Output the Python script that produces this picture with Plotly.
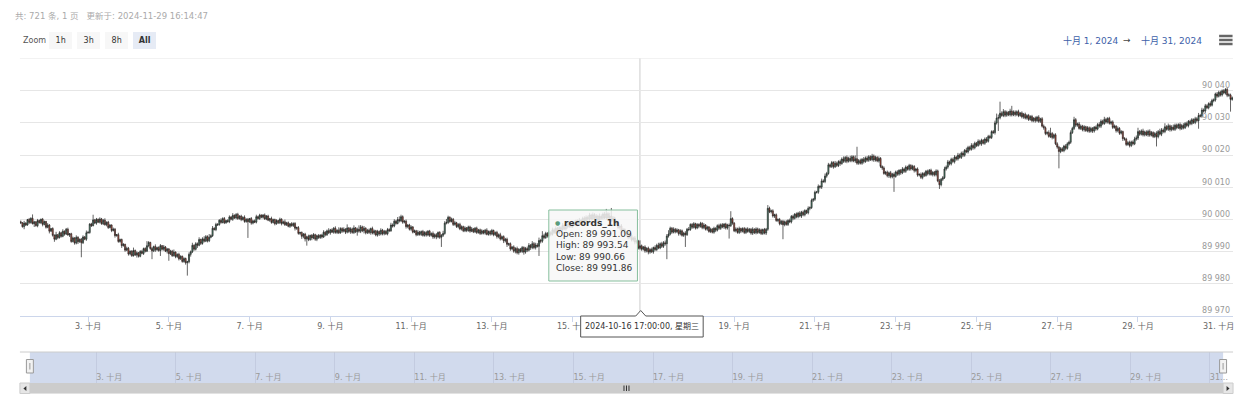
import plotly.graph_objects as go
import pandas as pd

# ---------------- data ----------------
start_time = "2024-10-01 08:00"
first_open = 89999.3
closes = [
    89999.0, 89997.8, 89998.9, 89998.3, 90000.0, 89999.1, 90000.4, 89998.7, 89999.3, 89998.1, 89999.7, 89999.0, 90000.1, 89998.5, 89999.4, 89997.6, 89998.3, 89996.4, 89997.2, 89995.1, 89993.9, 89995.3, 89994.4, 89995.9,
    89994.8, 89996.4, 89995.5, 89997.0, 89995.2, 89995.6, 89993.2, 89994.3, 89992.7, 89994.5, 89993.1, 89993.9, 89992.8, 89994.6, 89993.9, 89995.9, 89996.0, 89998.6, 89998.1, 89999.9, 89998.9, 90000.1, 89999.2, 90000.2,
    89998.7, 89999.8, 89998.4, 89999.2, 89997.5, 89998.3, 89996.6, 89997.0, 89995.0, 89995.3, 89993.2, 89993.8, 89991.9, 89992.3, 89990.5, 89991.1, 89989.3, 89990.2, 89988.8, 89990.4, 89989.0, 89989.7, 89988.6, 89990.1,
    89989.5, 89991.0, 89990.2, 89991.9, 89992.9, 89991.0, 89990.3, 89991.6, 89990.6, 89991.3, 89990.4, 89991.9, 89990.8, 89991.5, 89990.2, 89990.9, 89989.4, 89990.2, 89988.8, 89989.9, 89988.5, 89989.2, 89987.8, 89988.6,
    89987.0, 89987.9, 89986.6, 89986.9, 89989.2, 89990.0, 89992.0, 89990.8, 89992.5, 89992.0, 89993.8, 89992.6, 89994.0, 89993.3, 89994.7, 89993.4, 89994.5, 89995.0, 89997.3, 89996.9, 89998.5, 89998.4, 89999.8, 89999.1,
    90000.3, 89999.0, 89999.7, 89999.4, 90000.8, 90000.1, 90001.3, 90000.5, 90001.6, 90000.3, 90001.1, 90000.0, 90000.7, 89999.4, 90000.1, 89999.3, 90000.3, 89998.9, 89999.6, 89999.2, 90000.9, 90000.3, 90001.4, 90000.7,
    90001.4, 90000.2, 90001.1, 89999.8, 90000.3, 89999.1, 90000.0, 89998.7, 89999.7, 89999.0, 90000.1, 89998.8, 89999.3, 89998.4, 89999.0, 89997.9, 89998.7, 89998.1, 89998.8, 89997.3, 89997.5, 89995.7, 89996.0, 89994.8,
    89995.5, 89994.0, 89994.7, 89993.8, 89995.1, 89994.3, 89995.3, 89993.9, 89995.0, 89994.4, 89995.2, 89994.6, 89996.1, 89995.3, 89996.5, 89995.9, 89996.8, 89996.1, 89997.3, 89996.0, 89996.7, 89995.9, 89997.2, 89996.4,
    89997.0, 89996.1, 89997.4, 89996.3, 89997.1, 89996.0, 89997.4, 89996.2, 89997.0, 89996.4, 89997.7, 89996.5, 89997.3, 89995.9, 89996.7, 89996.0, 89997.2, 89995.8, 89996.5, 89995.2, 89996.3, 89995.5, 89996.7, 89995.6,
    89996.4, 89995.6, 89996.9, 89996.5, 89998.3, 89998.0, 89999.5, 89998.8, 90000.0, 89999.6, 90000.9, 89999.2, 89999.5, 89997.8, 89998.3, 89997.0, 89997.7, 89996.1, 89996.5, 89995.3, 89996.1, 89995.4, 89996.3, 89995.1,
    89996.0, 89995.2, 89996.4, 89995.1, 89995.7, 89994.6, 89995.3, 89994.6, 89996.0, 89994.5, 89995.1, 89995.7, 89998.9, 89999.1, 90000.7, 89999.4, 90000.1, 89998.5, 89999.0, 89997.8, 89998.5, 89997.1, 89997.8, 89996.5,
    89997.4, 89996.6, 89997.7, 89996.4, 89997.1, 89996.2, 89997.3, 89996.0, 89996.8, 89995.7, 89996.5, 89995.8, 89996.7, 89995.4, 89996.3, 89995.5, 89996.6, 89995.3, 89996.0, 89994.7, 89995.3, 89994.0, 89994.7, 89993.4,
    89993.9, 89992.3, 89992.5, 89990.9, 89991.5, 89990.2, 89991.0, 89989.7, 89990.8, 89990.1, 89991.3, 89989.9, 89991.0, 89990.5, 89992.0, 89991.3, 89992.5, 89991.3, 89992.1, 89991.7, 89993.5, 89993.3, 89995.0, 89994.4,
    89995.7, 89994.9, 89996.0, 89995.4, 89996.8, 89996.0, 89997.3, 89996.1, 89997.5, 89996.9, 89998.2, 89997.1, 89998.5, 89997.8, 89998.6, 89997.9, 89999.1, 89998.4, 89999.6, 89998.4, 89999.8, 89999.1, 90000.4, 89999.5,
    90000.7, 90000.1, 90001.4, 90000.2, 90001.5, 90000.3, 90001.1, 89999.8, 90001.0, 90000.4, 90001.7, 90000.5, 90001.8, 90000.5, 90001.1, 89999.8, 90000.5, 89998.7, 89999.1, 89997.5, 89998.0, 89996.5, 89996.9, 89995.4,
    89996.0, 89994.5, 89995.1, 89993.7, 89994.3, 89993.0, 89993.3, 89991.09, 89991.86, 89990.8, 89991.5, 89990.3, 89991.1, 89989.9, 89990.7, 89990.0, 89991.3, 89990.7, 89992.0, 89991.2, 89992.5, 89991.7, 89992.8, 89992.5,
    89994.9, 89995.5, 89997.3, 89996.1, 89997.0, 89996.2, 89996.8, 89995.6, 89996.5, 89995.1, 89995.8, 89995.3, 89997.0, 89996.9, 89998.5, 89997.6, 89998.7, 89997.4, 89998.5, 89997.9, 89998.8, 89997.5, 89998.3, 89997.0,
    89997.7, 89996.3, 89997.0, 89996.1, 89997.3, 89996.7, 89998.1, 89997.3, 89998.4, 89997.7, 89998.6, 89997.4, 89998.3, 89998.1, 90000.3, 89998.9, 89996.5, 89997.1, 89996.0, 89997.2, 89996.4, 89997.2, 89996.0, 89997.1,
    89996.3, 89997.0, 89995.8, 89997.0, 89995.9, 89997.1, 89996.0, 89996.8, 89995.7, 89996.9, 89995.8, 89997.0, 90003.5, 90002.4, 90002.7, 90001.1, 90001.5, 89999.7, 90000.0, 89998.7, 89999.5, 89998.4, 89999.3, 89998.5,
    89999.7, 89999.3, 90001.0, 90000.4, 90001.7, 90000.9, 90002.0, 90001.1, 90002.3, 90001.5, 90002.8, 90002.1, 90003.5, 90003.7, 90006.0, 90006.3, 90008.5, 90008.5, 90010.3, 90010.1, 90012.0, 90011.8, 90013.5, 90014.3,
    90017.0, 90016.5, 90017.7, 90016.4, 90017.5, 90016.8, 90018.0, 90017.4, 90018.8, 90018.1, 90019.3, 90018.1, 90019.0, 90018.3, 90019.5, 90018.2, 90018.9, 90017.5, 90018.3, 90017.5, 90018.7, 90018.0, 90019.1, 90018.4,
    90019.5, 90018.6, 90019.7, 90018.5, 90019.3, 90018.2, 90019.0, 90016.5, 90016.0, 90014.3, 90014.7, 90013.6, 90014.5, 90013.3, 90014.1, 90013.4, 90014.8, 90014.1, 90015.3, 90014.5, 90015.7, 90015.0, 90016.3, 90015.6,
    90016.8, 90015.7, 90016.5, 90015.2, 90015.7, 90013.8, 90014.0, 90013.1, 90014.3, 90013.7, 90015.0, 90014.2, 90015.3, 90014.0, 90014.7, 90013.9, 90015.1, 90012.0, 90010.8, 90012.5, 90013.0, 90015.7, 90016.3, 90017.9,
    90017.3, 90018.7, 90018.0, 90019.4, 90018.8, 90020.0, 90019.3, 90020.6, 90020.0, 90021.5, 90021.0, 90022.4, 90021.8, 90023.0, 90022.3, 90023.7, 90023.0, 90024.3, 90023.5, 90024.6, 90023.7, 90025.0, 90024.3, 90025.8,
    90025.5, 90027.3, 90027.0, 90030.0, 90031.5, 90031.6, 90033.0, 90032.3, 90033.5, 90032.4, 90033.3, 90032.5, 90033.7, 90032.5, 90033.4, 90032.6, 90033.5, 90032.3, 90033.1, 90031.9, 90032.7, 90031.5, 90032.3, 90031.1,
    90032.0, 90030.7, 90031.5, 90030.7, 90031.8, 90030.5, 90031.3, 90029.0, 90028.5, 90026.7, 90027.0, 90025.8, 90026.7, 90025.5, 90026.3, 90023.5, 90022.5, 90021.1, 90022.0, 90021.4, 90022.8, 90022.1, 90023.5, 90024.0,
    90027.0, 90028.3, 90031.0, 90029.3, 90029.7, 90028.3, 90029.0, 90027.9, 90028.8, 90027.6, 90028.5, 90027.4, 90028.3, 90027.5, 90028.7, 90028.1, 90029.5, 90029.0, 90030.5, 90029.8, 90031.1, 90030.3, 90031.4, 90029.9,
    90030.3, 90028.6, 90029.0, 90027.6, 90028.3, 90026.8, 90027.3, 90025.1, 90025.0, 90023.3, 90023.9, 90023.0, 90024.1, 90023.5, 90025.0, 90025.3, 90027.3, 90026.5, 90027.5, 90026.3, 90027.2, 90026.3, 90027.4, 90026.2,
    90027.0, 90025.8, 90026.7, 90025.7, 90027.3, 90026.5, 90027.8, 90027.3, 90028.8, 90028.0, 90029.1, 90027.9, 90028.7, 90028.0, 90029.3, 90028.5, 90029.5, 90028.3, 90029.2, 90028.5, 90029.8, 90029.2, 90030.5, 90029.8,
    90031.0, 90030.1, 90031.3, 90030.7, 90032.3, 90032.1, 90034.0, 90033.7, 90035.3, 90034.7, 90036.0, 90035.5, 90037.0, 90037.1, 90039.0, 90038.3, 90039.5, 90038.7, 90040.0, 90039.3, 90040.4, 90038.6, 90038.7, 90037.3,
    90037.8,
]
upper_wick = [
    0.4, 0.2, 0.7, 0.3, 0.2, 0.5, 0.3, 1.2, 0.3, 0.2, 0.5, 0.3, 0.2, 0.4, 0.3, 0.2, 0.6, 0.3, 0.2, 0.4, 0.3, 0.9, 0.2, 0.5,
    0.3, 0.6, 0.2, 0.4, 0.5, 0.2, 0.3, 0.4, 0.2, 0.6, 0.3, 0.2, 0.4, 0.5, 0.3, 0.7, 0.5, 0.3, 0.4, 1.6, 0.3, 0.4, 0.2, 0.5,
    0.3, 0.4, 0.6, 0.2, 0.4, 0.3, 0.2, 0.5, 0.4, 0.2, 0.6, 0.3, 0.3, 0.4, 0.2, 0.5, 0.4, 0.2, 0.3, 0.9, 0.3, 0.4, 0.2, 0.4,
    0.5, 0.3, 0.4, 1.4, 0.4, 0.2, 0.5, 0.3, 0.7, 0.3, 0.4, 0.5, 0.2, 0.6, 0.3, 0.3, 0.2, 0.4, 0.4, 0.8, 0.2, 0.3, 0.5, 0.3,
    0.2, 0.4, 0.3, 0.3, 0.6, 0.4, 0.8, 0.3, 0.5, 0.4, 0.7, 0.3, 0.5, 0.8, 0.5, 0.4, 1.0, 0.4, 0.7, 0.3, 0.5, 0.4, 0.3, 0.6,
    0.4, 0.5, 0.2, 0.4, 0.5, 0.3, 0.7, 0.3, 0.4, 0.5, 0.2, 0.4, 0.3, 0.6, 0.3, 0.4, 0.2, 0.5, 0.3, 0.4, 0.6, 0.3, 0.4, 0.2,
    0.3, 0.5, 0.3, 0.4, 0.2, 0.6, 0.3, 0.3, 0.4, 0.2, 0.5, 0.3, 0.4, 0.7, 0.3, 0.4, 0.2, 0.5, 0.3, 0.4, 0.3, 0.5, 0.2, 0.3,
    0.3, 0.4, 0.3, 0.6, 0.2, 0.4, 0.5, 0.3, 0.3, 0.5, 0.2, 0.4, 0.6, 0.3, 0.4, 0.8, 0.3, 0.5, 0.4, 0.6, 0.3, 0.9, 0.4, 0.4,
    0.6, 0.3, 1.1, 0.3, 0.5, 0.4, 0.8, 0.3, 0.5, 1.2, 0.6, 0.4, 0.7, 0.3, 0.4, 0.5, 0.3, 0.6, 0.4, 0.3, 0.5, 0.3, 0.6, 0.4,
    0.4, 0.3, 0.5, 0.4, 0.7, 0.5, 0.6, 0.4, 0.8, 1.0, 0.6, 0.4, 0.3, 0.5, 0.3, 0.4, 0.5, 0.3, 0.4, 0.3, 0.6, 0.4, 0.3, 0.5,
    0.4, 0.5, 0.3, 0.4, 0.3, 0.6, 0.4, 0.5, 0.3, 0.4, 0.4, 0.8, 0.6, 1.1, 0.5, 0.3, 0.5, 0.4, 0.6, 0.3, 0.4, 0.5, 0.4, 0.3,
    0.5, 0.3, 0.4, 0.4, 0.6, 0.3, 0.4, 0.5, 0.3, 0.4, 0.5, 0.3, 0.4, 0.6, 0.3, 0.4, 0.5, 0.3, 0.3, 0.5, 0.4, 0.6, 0.3, 0.4,
    0.4, 0.5, 0.3, 0.4, 0.3, 0.5, 0.4, 0.6, 0.3, 0.4, 0.5, 0.4, 0.5, 0.6, 0.7, 0.4, 0.8, 0.5, 0.7, 0.6, 0.9, 0.5, 1.4, 0.6,
    0.5, 0.4, 0.6, 0.4, 0.7, 0.5, 0.6, 0.4, 0.5, 0.4, 0.7, 0.5, 0.6, 0.4, 0.8, 0.5, 0.4, 0.6, 0.4, 0.5, 0.7, 0.4, 0.5, 0.6,
    0.6, 0.5, 0.7, 0.4, 0.7, 0.5, 0.6, 0.4, 0.9, 0.6, 0.5, 0.7, 1.5, 0.5, 1.0, 2.5, 0.6, 0.4, 0.7, 0.5, 0.4, 0.6, 0.5, 0.4,
    0.4, 0.5, 0.3, 0.5, 0.4, 0.6, 0.4, 0.4, 1.68, 0.4, 0.3, 0.5, 0.3, 0.5, 0.4, 0.6, 0.3, 0.7, 0.5, 0.8, 0.4, 0.6, 0.5, 0.7,
    0.6, 1.2, 0.5, 0.4, 0.6, 0.4, 0.5, 0.3, 0.5, 0.4, 0.4, 0.6, 0.4, 0.7, 0.3, 0.4, 0.5, 0.3, 0.4, 0.3, 0.5, 0.4, 0.6, 0.3,
    0.4, 0.3, 0.5, 0.4, 0.5, 0.3, 0.4, 0.6, 0.4, 0.5, 0.3, 0.4, 0.4, 0.5, 2.3, 0.4, 0.3, 0.5, 0.4, 0.6, 0.3, 0.4, 0.5, 0.4,
    0.5, 0.4, 0.4, 0.6, 0.3, 0.5, 0.4, 0.5, 0.4, 0.3, 0.5, 0.4, 1.0, 0.5, 0.4, 0.5, 0.3, 0.4, 0.4, 0.5, 0.3, 0.4, 0.4, 0.5,
    0.4, 0.6, 0.4, 0.5, 0.3, 0.5, 0.4, 0.6, 0.4, 0.5, 0.4, 0.3, 0.6, 0.4, 0.5, 0.4, 0.5, 0.4, 0.6, 0.4, 0.7, 0.5, 0.8, 0.5,
    0.6, 0.4, 0.5, 0.4, 0.7, 0.5, 0.4, 0.6, 0.5, 0.8, 0.4, 0.6, 0.5, 0.8, 0.5, 0.4, 1.0, 3.7, 0.5, 0.6, 0.4, 0.7, 0.5, 0.6,
    0.5, 0.4, 0.7, 0.5, 0.5, 0.4, 0.6, 0.4, 0.3, 0.5, 0.4, 0.5, 0.4, 0.6, 0.4, 0.5, 0.4, 0.5, 0.3, 0.4, 0.6, 0.4, 0.5, 0.4,
    0.5, 0.4, 0.5, 0.4, 0.3, 0.5, 0.4, 0.6, 0.4, 0.5, 0.4, 0.5, 0.4, 0.5, 0.3, 0.4, 0.5, 0.4, 0.6, 0.4, 0.5, 0.7, 0.5, 0.6,
    0.4, 0.5, 0.5, 0.6, 0.4, 0.7, 0.5, 0.5, 0.6, 0.4, 0.8, 0.5, 0.5, 0.7, 0.6, 0.5, 0.4, 0.6, 0.5, 0.5, 0.4, 0.5, 0.6, 0.5,
    0.5, 0.4, 0.5, 0.7, 1.4, 1.0, 3.6, 0.6, 0.8, 0.5, 0.5, 0.4, 0.7, 1.6, 0.5, 0.5, 0.4, 0.6, 0.3, 0.5, 0.4, 0.5, 0.4, 0.5,
    0.4, 0.5, 0.3, 0.5, 0.4, 0.6, 0.3, 0.5, 0.5, 0.4, 0.4, 0.7, 1.8, 0.5, 0.4, 0.5, 0.5, 0.4, 0.5, 0.5, 0.4, 0.6, 0.5, 0.5,
    0.7, 0.5, 0.9, 0.5, 0.4, 0.6, 0.5, 0.4, 0.5, 0.3, 0.5, 0.4, 0.5, 0.4, 0.3, 0.5, 0.5, 0.7, 0.6, 0.5, 0.8, 0.5, 0.4, 0.5,
    0.4, 0.5, 0.5, 0.3, 0.6, 0.4, 0.5, 0.3, 0.5, 0.4, 0.5, 0.6, 0.4, 0.5, 0.7, 0.8, 1.2, 0.5, 0.5, 0.7, 0.4, 0.5, 0.5, 0.6,
    0.5, 0.4, 0.5, 0.7, 0.5, 0.9, 0.6, 0.5, 1.1, 0.5, 0.7, 0.4, 0.6, 0.8, 0.5, 0.5, 0.4, 0.6, 0.5, 0.7, 0.5, 0.6, 0.4, 0.5,
    0.5, 0.4, 0.6, 0.5, 0.8, 0.5, 0.7, 0.5, 0.6, 0.5, 0.4, 0.7, 0.5, 0.5, 0.4, 0.6, 0.5, 0.5, 0.4, 0.5, 0.4, 0.5, 0.5, 0.4,
    0.4,
]
lower_wick = [
    0.4, 0.3, 0.8, 0.3, 0.2, 0.5, 0.4, 0.2, 1.0, 0.3, 0.5, 0.2, 0.4, 0.6, 0.3, 0.4, 0.3, 0.7, 0.2, 0.4, 0.8, 0.3, 0.5, 0.3,
    0.4, 0.3, 0.5, 0.3, 0.2, 0.6, 0.4, 0.3, 0.5, 0.4, 0.7, 0.3, 4.5, 0.4, 0.3, 0.5, 0.3, 0.4, 0.4, 0.2, 0.3, 0.5, 0.3, 0.4,
    0.3, 0.4, 0.3, 0.5, 0.4, 0.2, 0.5, 0.3, 0.6, 0.3, 0.4, 0.4, 0.7, 0.3, 0.5, 0.3, 0.5, 0.4, 0.4, 0.3, 0.3, 0.8, 0.4, 0.3,
    0.3, 0.5, 0.4, 0.3, 0.5, 0.4, 2.6, 0.4, 0.6, 0.3, 0.4, 1.7, 0.4, 0.5, 0.3, 0.7, 2.2, 0.4, 0.4, 0.3, 0.5, 0.4, 0.5, 0.3,
    0.4, 0.4, 0.6, 4.0, 0.5, 0.7, 0.4, 0.5, 0.4, 0.8, 0.3, 0.5, 0.4, 0.4, 0.3, 0.5, 0.4, 0.3, 0.4, 0.3, 0.5, 0.4, 0.3, 0.4,
    0.3, 0.4, 0.3, 0.4, 0.5, 0.3, 0.5, 0.3, 0.4, 0.4, 0.3, 0.5, 0.3, 0.4, 0.4, 5.0, 0.3, 0.5, 0.4, 0.3, 0.4, 0.3, 0.4, 0.3,
    0.4, 0.3, 0.4, 0.3, 0.5, 0.4, 0.3, 0.5, 0.3, 0.4, 0.4, 0.6, 0.3, 0.4, 0.4, 0.3, 0.5, 0.3, 0.4, 0.7, 0.5, 0.4, 0.5, 0.8,
    0.6, 0.8, 2.1, 0.5, 0.4, 0.7, 0.4, 0.5, 0.6, 0.4, 0.4, 0.5, 0.3, 0.5, 0.4, 0.4, 0.6, 0.3, 0.5, 0.4, 0.5, 0.4, 0.3, 0.5,
    0.4, 0.6, 0.4, 0.5, 0.7, 0.4, 0.5, 0.4, 1.2, 0.5, 0.6, 0.4, 0.8, 0.5, 0.4, 0.5, 0.7, 0.4, 0.5, 0.4, 0.5, 0.6, 0.4, 0.5,
    0.5, 0.4, 0.5, 0.4, 0.3, 0.5, 0.4, 0.4, 0.3, 0.5, 0.4, 0.5, 0.4, 0.6, 0.5, 0.4, 0.5, 0.4, 0.3, 0.5, 0.4, 0.4, 0.5, 0.4,
    0.4, 0.5, 0.4, 0.5, 0.4, 0.6, 0.5, 0.7, 0.4, 0.5, 3.0, 0.5, 0.4, 0.4, 0.5, 0.4, 0.3, 0.5, 0.4, 0.4, 0.5, 0.4, 0.5, 0.4,
    0.4, 0.5, 0.4, 0.5, 0.3, 0.4, 0.4, 0.5, 0.4, 0.5, 0.4, 0.4, 0.5, 0.3, 0.4, 0.5, 0.4, 0.5, 0.4, 0.6, 0.5, 0.5, 0.4, 0.7,
    0.5, 0.8, 0.5, 0.6, 0.4, 0.5, 0.7, 0.5, 0.6, 0.4, 0.5, 0.8, 0.5, 0.6, 0.4, 0.7, 0.5, 0.5, 0.6, 0.4, 3.0, 0.7, 0.5, 0.5,
    0.4, 0.5, 0.5, 0.6, 0.4, 0.5, 0.5, 0.4, 0.6, 0.5, 0.5, 0.4, 0.5, 0.6, 0.4, 0.5, 0.5, 0.4, 0.5, 0.5, 0.4, 0.6, 0.5, 0.4,
    0.5, 0.4, 0.5, 0.5, 0.4, 0.6, 0.5, 0.5, 0.4, 0.5, 0.5, 0.4, 0.6, 0.5, 0.4, 0.5, 0.5, 0.7, 0.5, 0.4, 0.6, 0.5, 0.5, 0.4,
    0.5, 0.6, 0.4, 0.5, 0.5, 0.7, 0.5, 0.4, 0.43, 0.5, 0.4, 0.6, 0.5, 0.7, 0.5, 0.4, 0.6, 0.5, 0.5, 0.4, 0.4, 0.5, 0.5, 0.6,
    4.8, 0.5, 0.4, 0.5, 0.4, 0.5, 0.4, 0.6, 0.5, 0.4, 0.5, 3.8, 0.4, 0.5, 0.4, 0.5, 0.4, 0.5, 0.4, 0.6, 0.4, 0.5, 0.5, 0.4,
    0.5, 0.4, 0.5, 0.4, 0.5, 0.6, 0.4, 0.5, 0.5, 0.4, 0.6, 0.5, 0.5, 4.0, 0.4, 0.5, 0.4, 0.5, 0.4, 0.5, 0.6, 0.4, 0.5, 0.5,
    0.4, 0.5, 0.5, 0.6, 0.4, 0.5, 0.5, 0.4, 0.5, 0.5, 0.4, 0.6, 0.5, 0.4, 0.5, 0.5, 0.6, 0.4, 0.5, 0.5, 0.4, 4.5, 0.5, 0.4,
    0.5, 0.4, 0.5, 0.6, 0.4, 0.5, 0.5, 0.4, 0.6, 0.5, 0.5, 0.4, 0.5, 0.6, 0.4, 0.5, 0.5, 0.4, 0.5, 0.5, 0.6, 0.4, 0.5, 0.5,
    0.4, 0.5, 0.5, 0.6, 0.4, 0.5, 0.5, 0.7, 0.4, 0.5, 0.5, 0.6, 0.4, 0.5, 0.5, 0.4, 0.6, 0.5, 0.5, 0.4, 0.5, 0.6, 0.4, 0.5,
    0.5, 0.4, 0.5, 0.6, 0.5, 0.4, 0.5, 0.5, 0.6, 0.4, 0.5, 0.5, 0.7, 0.5, 0.5, 4.8, 0.4, 0.5, 0.5, 0.6, 0.4, 0.5, 0.5, 0.4,
    0.5, 0.5, 0.4, 0.6, 0.5, 0.5, 0.4, 0.5, 0.6, 0.5, 0.4, 0.5, 0.5, 0.4, 0.6, 0.5, 0.5, 0.4, 1.3, 0.5, 0.5, 0.4, 0.5, 0.5,
    0.5, 0.5, 0.4, 0.6, 0.5, 0.5, 0.4, 0.5, 0.6, 0.5, 0.4, 0.5, 0.5, 0.4, 0.6, 0.5, 0.5, 0.4, 0.5, 0.6, 0.4, 0.5, 0.5, 0.4,
    0.5, 0.5, 0.4, 0.6, 0.5, 4.0, 0.5, 0.4, 0.5, 0.6, 0.5, 0.4, 0.5, 0.5, 0.4, 0.6, 0.5, 0.5, 0.4, 0.5, 0.6, 0.4, 0.5, 0.5,
    0.4, 0.5, 0.5, 0.6, 0.4, 0.5, 0.5, 0.4, 0.6, 0.5, 0.5, 0.4, 0.5, 0.6, 0.5, 0.4, 0.5, 5.2, 0.5, 0.4, 0.5, 0.6, 0.4, 0.5,
    0.5, 0.4, 0.5, 0.6, 0.5, 0.4, 0.5, 0.5, 0.6, 0.4, 0.5, 0.5, 0.4, 0.6, 0.5, 0.5, 0.4, 0.5, 0.6, 0.5, 0.4, 0.5, 0.5, 0.4,
    0.5, 0.5, 0.4, 0.6, 0.5, 0.5, 0.4, 0.7, 0.5, 0.5, 0.4, 0.6, 0.5, 0.5, 0.4, 0.5, 0.6, 0.5, 0.4, 0.5, 0.5, 0.4, 0.6, 0.5,
    0.4, 0.5, 0.5, 3.0, 0.5, 0.4, 0.6, 0.5, 0.5, 0.4, 0.5, 0.6, 0.5, 0.4, 0.5, 0.5, 0.4, 0.6, 0.5, 0.5, 0.4, 0.5, 0.6, 0.5,
    0.5, 0.4, 0.5, 0.5, 2.5, 0.4, 0.5, 0.5, 0.6, 0.4, 0.5, 0.5, 0.4, 0.6, 0.5, 0.5, 0.4, 0.5, 0.5, 0.4, 0.5, 0.6, 0.5, 3.8,
    0.4,
]
tick_days = [3, 5, 7, 9, 11, 13, 15, 17, 19, 21, 23, 25, 27, 29, 31]
month_name = "十月"
y_ticks = [89970, 89980, 89990, 90000, 90010, 90020, 90030, 90040]
header_text = "共: 721 条, 1 页   更新于: 2024-11-29 16:14:47"
zoom_labels = ["1h", "3h", "8h", "All"]
range_from_text = "十月 1, 2024"
range_to_text = "十月 31, 2024"
series_name = "records_1h"
hover_index = 368
hover_label_text = "2024-10-16 17:00:00, 星期三"
hidden_tick_day = 17  # covered by the crosshair label in the reference
edge_tick_day = 31    # last tick, drawn as a text pinned to its date

assert len(closes) == len(upper_wick) == len(lower_wick) == 721

# ---------------- derived ----------------
times = pd.date_range(start_time, periods=len(closes), freq="h")
opens = [first_open] + closes[:-1]
highs = [max(o, c) + w for o, c, w in zip(opens, closes, upper_wick)]
lows = [min(o, c) - w for o, c, w in zip(opens, closes, lower_wick)]
tick_times = [pd.Timestamp(2024, 10, d) for d in tick_days]
tick_text = [f"{d}. {month_name}" for d in tick_days]
main_tick_text = ["" if d in (hidden_tick_day, edge_tick_day) else t for d, t in zip(tick_days, tick_text)]
nav_tick_text = tick_text[:-1] + [f"{tick_days[-1]}…"]


def fmt(v):
    return f"{v:,.2f}".replace(",", " ")


y_text = [f"{v:,}".replace(",", " ") for v in y_ticks]

W, H = 1251, 401


def X(p):
    return p / W


def Y(p):
    return 1 - p / H


FONT = "DejaVu Sans, Noto Sans CJK SC, sans-serif"
half = pd.Timedelta(minutes=30)

fig = go.Figure()
fig.add_trace(go.Candlestick(
    x=times, open=opens, high=highs, low=lows, close=closes, name=series_name,
    increasing=dict(line=dict(color="#222222", width=0.7), fillcolor="#4f9a7b"),
    decreasing=dict(line=dict(color="#222222", width=0.7), fillcolor="#d9513c"),
    hoverinfo="skip", showlegend=False, xaxis="x", yaxis="y",
))
fig.add_trace(go.Scatter(
    x=times, y=closes, xaxis="x2", yaxis="y2", mode="lines",
    line=dict(width=0, color="rgba(0,0,0,0)"), hoverinfo="skip", showlegend=False,
))

shapes = []
annotations = []

# top gridline (90 050)
shapes.append(dict(type="line", xref="paper", yref="y", x0=X(20), x1=X(1238), y0=90050, y1=90050,
                   line=dict(color="#e6e6e6", width=1), layer="below"))
# crosshair
shapes.append(dict(type="line", xref="x", yref="y domain", x0=times[hover_index], x1=times[hover_index],
                   y0=0, y1=1, line=dict(color="#cccccc", width=1), layer="below"))

# navigator mask + outline
shapes.append(dict(type="rect", xref="paper", yref="paper", x0=X(30), x1=X(1228), y0=Y(383), y1=Y(352),
                   fillcolor="rgba(102,133,194,0.3)", line=dict(width=0), layer="below"))
shapes.append(dict(type="line", xref="paper", yref="paper", x0=X(20), x1=X(1238), y0=Y(352), y1=Y(352),
                   line=dict(color="#cccccc", width=1), layer="above"))
# navigator handles
for hx in (30, 1228):
    shapes.append(dict(type="rect", xref="paper", yref="paper", x0=X(hx - 3.5), x1=X(hx + 3.5), y0=Y(373), y1=Y(359.5),
                       fillcolor="#f2f2f2", line=dict(color="#999999", width=1), layer="above"))
    shapes.append(dict(type="line", xref="paper", yref="paper", x0=X(hx), x1=X(hx), y0=Y(369.5), y1=Y(363),
                       line=dict(color="#999999", width=1), layer="above"))
# scrollbar
shapes.append(dict(type="rect", xref="paper", yref="paper", x0=X(20), x1=X(1238), y0=Y(393.5), y1=Y(383),
                   fillcolor="#f2f2f2", line=dict(width=0), layer="above"))
shapes.append(dict(type="rect", xref="paper", yref="paper", x0=X(30), x1=X(1228), y0=Y(393.5), y1=Y(383),
                   fillcolor="#cccccc", line=dict(width=0), layer="above"))
for bx0 in (20, 1228):
    shapes.append(dict(type="rect", xref="paper", yref="paper", x0=X(bx0), x1=X(bx0 + 10), y0=Y(393.5), y1=Y(383),
                       fillcolor="#e6e6e6", line=dict(color="#cccccc", width=1), layer="above"))
shapes.append(dict(type="path", xref="paper", yref="paper",
                   path=f"M {X(26.5)} {Y(386)} L {X(26.5)} {Y(391)} L {X(23.5)} {Y(388.5)} Z",
                   fillcolor="#333333", line=dict(width=0), layer="above"))
shapes.append(dict(type="path", xref="paper", yref="paper",
                   path=f"M {X(1231.5)} {Y(386)} L {X(1231.5)} {Y(391)} L {X(1234.5)} {Y(388.5)} Z",
                   fillcolor="#333333", line=dict(width=0), layer="above"))
for rx in (626.5, 629, 631.5):
    shapes.append(dict(type="line", xref="paper", yref="paper", x0=X(rx), x1=X(rx), y0=Y(391), y1=Y(385.5),
                       line=dict(color="#333333", width=1), layer="above"))

# hamburger menu
for hy in (36, 40, 44):
    shapes.append(dict(type="line", xref="paper", yref="paper", x0=X(1224), x1=X(1237.5), y0=Y(hy), y1=Y(hy),
                       line=dict(color="#666666", width=2.5), layer="above"))

# tooltip box
shapes.append(dict(type="rect", xref="paper", yref="paper", x0=X(551), x1=X(640), y0=Y(281), y1=Y(210),
                   fillcolor="rgba(247,247,247,0.85)", line=dict(color="#86bf9d", width=1), layer="above"))
# crosshair label box with pointer
cx = 643.3
path = (f"M {X(583)} {Y(316)} L {X(cx - 5)} {Y(316)} L {X(cx)} {Y(310.5)} L {X(cx + 5)} {Y(316)} "
        f"L {X(706)} {Y(316)} L {X(706)} {Y(337)} L {X(583)} {Y(337)} Z")
shapes.append(dict(type="path", xref="paper", yref="paper", path=path,
                   fillcolor="#ffffff", line=dict(color="#555555", width=1), layer="above"))


def label(x, y, text, size=8, color="#333333", xanchor="left", **kw):
    d = dict(x=X(x), y=Y(y), xref="paper", yref="paper", text=text, showarrow=False,
             xanchor=xanchor, yanchor="middle", font=dict(family=FONT, size=size, color=color))
    d.update(kw)
    annotations.append(d)


label(12.7, 15.7, header_text, size=8.5, color="#aaaaaa")
label(20.7, 40, "Zoom", size=8, color="#555555")
for lab, bx in zip(zoom_labels, (61, 89, 117, 145.3)):
    selected = lab == "All"
    label(bx, 40, f"<b>{lab}</b>" if selected else lab, size=8, color="#333333", xanchor="center",
          width=23.4, height=16.6, bgcolor="#e6ebf5" if selected else "#f7f7f7", borderpad=0, borderwidth=0)
label(1065.7, 40, range_from_text, size=9, color="#3e5fa9")
label(1131.5, 40, "→", size=9, color="#444444", xanchor="center")
label(1144, 40, range_to_text, size=9, color="#3e5fa9")

# last main x tick label, pinned to its date on the x axis
annotations.append(dict(x=pd.Timestamp(2024, 10, edge_tick_day), xref="x", y=Y(326.3), yref="paper",
                        text=tick_text[tick_days.index(edge_tick_day)], showarrow=False,
                        xanchor="center", yanchor="middle",
                        font=dict(family=FONT, size=8, color="#666666")))

# tooltip text
label(559.5, 222.5, "●", size=6, color="#5b9c7c", xanchor="center")
label(564.5, 222.5, f"<b>{series_name}</b>", size=9, color="#333333")
label(556.5, 233.8, f"Open: {fmt(opens[hover_index])}", size=9)
label(556.5, 245.3, f"High: {fmt(highs[hover_index])}", size=9)
label(556.5, 256.8, f"Low: {fmt(lows[hover_index])}", size=9)
label(556.5, 268.3, f"Close: {fmt(closes[hover_index])}", size=9)
# crosshair x label
label(644.5, 326.5, hover_label_text, size=8, color="#333333", xanchor="center")

fig.update_layout(
    width=W, height=H, autosize=False,
    margin=dict(l=0, r=0, t=0, b=0),
    paper_bgcolor="#ffffff", plot_bgcolor="rgba(0,0,0,0)",
    hovermode=False, showlegend=False, boxgap=0.12,
    font=dict(family=FONT),
    xaxis=dict(domain=[X(20), X(1238)], range=[times[0] - half, times[-1] + half], anchor="y",
               rangeslider=dict(visible=False), showgrid=False, zeroline=False,
               showline=True, linecolor="#ccd6eb", linewidth=1,
               ticks="outside", ticklen=5, tickcolor="#ccd6eb", tickwidth=1,
               tickmode="array", tickvals=tick_times, ticktext=main_tick_text, ticklabelstandoff=-3,
               ticklabeloverflow="allow",
               tickfont=dict(family=FONT, size=8, color="#666666"), fixedrange=True),
    yaxis=dict(domain=[Y(316.2), Y(58.5)], range=[89970, 90050], anchor="x", side="right",
               tickmode="array", tickvals=y_ticks, ticktext=y_text, ticklabelposition="inside top",
               tickfont=dict(family=FONT, size=8, color="#999999"), ticks="",
               showgrid=True, gridcolor="#e6e6e6", gridwidth=1, zeroline=False, showline=False,
               fixedrange=True),
    xaxis2=dict(domain=[X(30), X(1228)], range=[times[0], times[-1]], anchor="y2",
                showgrid=True, gridcolor="#c3cbe0", gridwidth=1, zeroline=False, showline=False,
                ticks="", tickmode="array", tickvals=tick_times, ticktext=nav_tick_text,
                ticklabelposition="inside right", ticklabeloverflow="allow", ticklabelstandoff=-5,
                tickfont=dict(family=FONT, size=8, color="#999999"), fixedrange=True),
    yaxis2=dict(domain=[Y(383), Y(352)], anchor="x2", visible=False, fixedrange=True),
    shapes=shapes,
    annotations=annotations,
)

fig.write_html("out.html", config={"displayModeBar": False},
               post_script="document.body.style.margin='0';")
